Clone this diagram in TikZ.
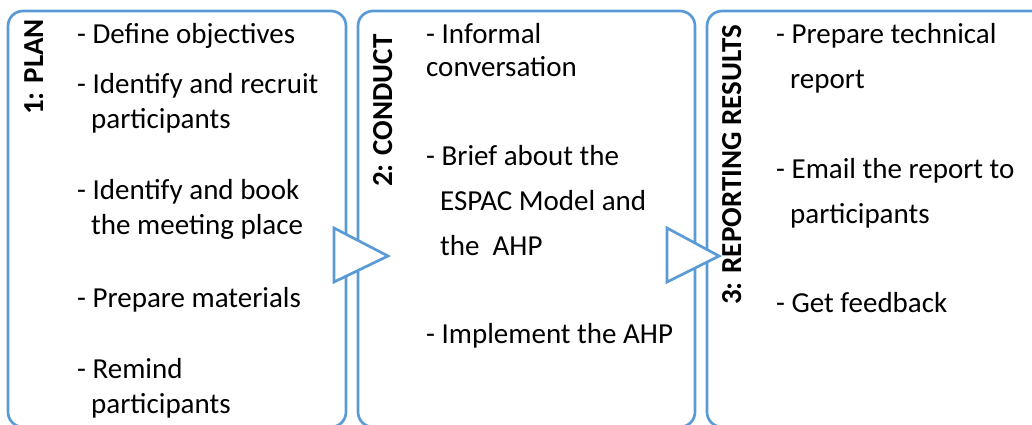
\documentclass[tikz,border=0pt]{standalone}
\usepackage{fontspec}
\setmainfont{Carlito}
\usepackage{tikz}
\usetikzlibrary{positioning,calc}
\definecolor{phaseblue}{RGB}{91,155,213}
\tikzstyle{phase} = [draw=phaseblue, line width=2.7pt, rounded corners=15pt, minimum height=416pt, inner sep=0pt, outer sep=0pt]
\tikzstyle{phasetitle} = [rotate=90, anchor=base west, inner sep=0pt, font=\fontsize{29}{35}\selectfont\bfseries]
\tikzstyle{task} = [anchor=base west, inner sep=0pt, align=left, font=\fontsize{29}{35.5}\selectfont]
\tikzstyle{widetask} = [task, font=\fontsize{29}{45}\selectfont]
\tikzstyle{flowtri} = [draw=phaseblue, fill=white, line width=2.7pt, line join=miter]

\begin{document}
\begin{tikzpicture}[x=1pt,y=-1pt]
	\clip (0,0) rectangle (1032,424);
	\node[phase, minimum width=338pt] (plan) at (177,219) {};
	\node[phase, minimum width=337pt, right=12pt of plan] (conduct) {};
	\node[phase, minimum width=340pt, right=12pt of conduct] (report) {};
	% arrows between the phases
	\draw[flowtri] ($(plan.east)+(-12,9)$) -- ($(plan.east)+(42,37)$) -- ($(plan.east)+(-12,63)$) -- cycle;
	\draw[flowtri] ($(conduct.east)+(-28,9)$) -- ($(conduct.east)+(24,37)$) -- ($(conduct.east)+(-28,63)$) -- cycle;
	% 1: plan (base = last line)
	\node[phasetitle] (plantitle) at ($(plan.north west)+(35,104)$) {1: PLAN};
	\node[task] (objectives) at ($(plan.north west)+(69,32)$) {- Define objectives};
	\node[task] (recruit) at ($(plan.north west)+(69,117.5)$) {- Identify and recruit\\\hspace*{14pt}participants};
	\node[task] (place) at ($(plan.north west)+(69,223.5)$) {- Identify and book\\\hspace*{14pt}the meeting place};
	\node[task] (materials) at ($(plan.north west)+(69,296)$) {- Prepare materials};
	\node[task] (remind) at ($(plan.north west)+(69,402.5)$) {- Remind\\\hspace*{14pt}participants};
	% 2: conduct
	\node[phasetitle] (conducttitle) at ($(conduct.north west)+(34,176)$) {2: CONDUCT};
	\node[task, font=\fontsize{29}{33}\selectfont] (informal) at ($(conduct.north west)+(68,65)$) {- Informal\\conversation};
	\node[widetask] (brief) at ($(conduct.north west)+(68,244)$) {- Brief about the\\\hspace*{14pt}ESPAC Model and\\\hspace*{14pt}the~~AHP};
	\node[task] (implement) at ($(conduct.north west)+(68,332)$) {- Implement the AHP};
	% 3: reporting results
	\node[phasetitle] (reporttitle) at ($(report.north west)+(34,294)$) {3: REPORTING RESULTS};
	\node[widetask] (techreport) at ($(report.north west)+(69,77)$) {- Prepare technical\\\hspace*{14pt}report};
	\node[widetask] (email) at ($(report.north west)+(69,212)$) {- Email the report to\\\hspace*{14pt}participants};
	\node[task] (feedback) at ($(report.north west)+(69,301)$) {- Get feedback};
\end{tikzpicture}
\end{document}
